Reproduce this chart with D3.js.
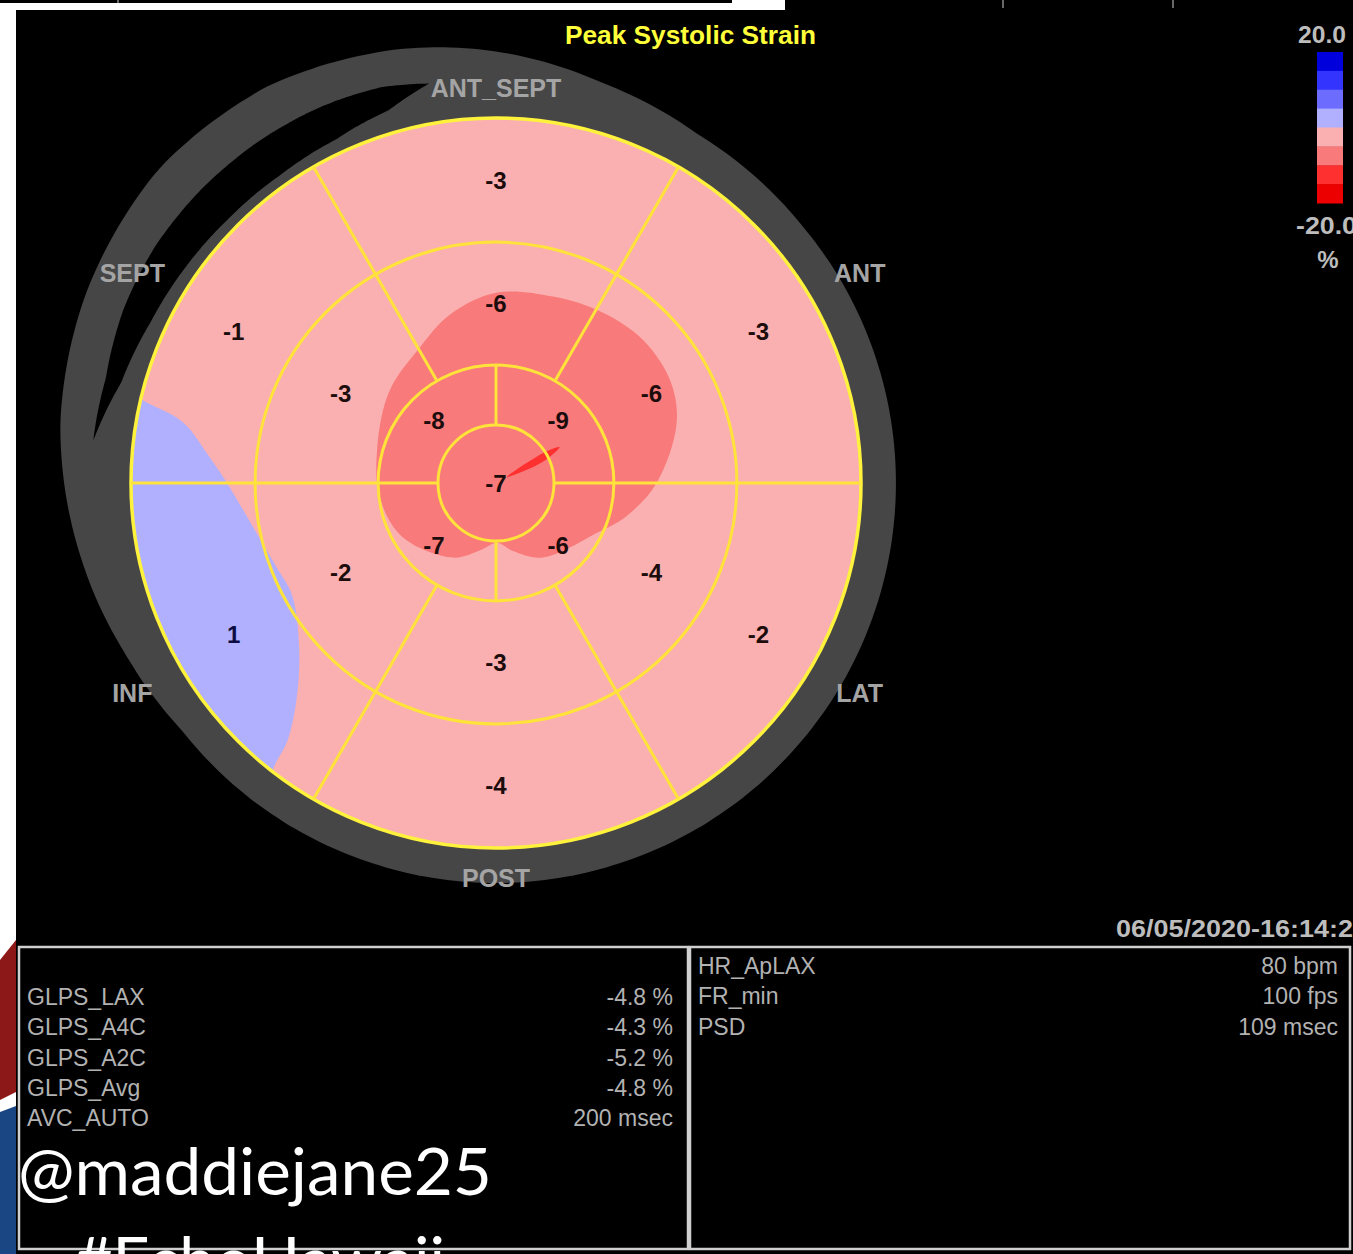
<!DOCTYPE html>
<html lang="en">
<head>
    <meta charset="UTF-8">
    <title>Peak Systolic Strain</title>
    <script src="https://d3js.org/d3.v7.min.js"></script>
    <style>
        body {
            margin: 0;
            background: #fff;
            overflow: hidden;
        }
        svg {
            display: block;
            font-family: "Liberation Sans", Arial, sans-serif;
        }
        .seg-value {
            font-size: 24px;
            font-weight: bold;
            fill: #1c0c0c;
        }
        .wall {
            font-size: 25px;
            font-weight: bold;
            fill: #a4a4a4;
        }
        .scale-label {
            font-size: 24px;
            font-weight: bold;
            fill: #bdbdbd;
        }
        .table-text {
            font-size: 23px;
            fill: #b2b2b2;
        }
    </style>
</head>
<body>
    <svg width="1353" height="1254"></svg>

    <script>
        const wallNames = ["ANT_SEPT", "ANT", "LAT", "POST", "INF", "SEPT"];   // clockwise from top
        const basalStrain = [-3, -3, -2, -4, 1, -1];
        const midStrain = [-6, -6, -4, -3, -2, -3];
        const apicalStrain = [-9, -6, -7, -8];                                // clockwise from top-right
        const apexStrain = -7;

        // colour bar, from +20 (top) to -20 (bottom)
        const scaleColors = ["#0000dc", "#3434ff", "#6c6cff", "#b0b0ff", "#fab0b0", "#f87a7a", "#ff3030", "#ec0000"];
        const scaleTicks = ["20.0", "-20.0"];
        const scaleUnit = "%";

        // strain contours (angle in degrees ccw from 3 o'clock, radius as fraction of LV radius)
        const highAngles = [0, 18, 30, 44, 58, 73, 90, 105, 119, 139, 163, 187, 210, 240, 258, 271, 284, 302, 334, 346];
        const highRadii = [0.44, 0.52, 0.553, 0.562, 0.551, 0.534, 0.521, 0.479, 0.427, 0.386, 0.34, 0.321, 0.296, 0.236, 0.186, 0.164, 0.192, 0.241, 0.31, 0.37];
        const highValue = -7;

        const posAngles = [165, 166.8, 169, 175, 180, 189, 201, 209, 220, 227, 231, 232, 234, 200];
        const posRadii = [1.08, 0.995, 0.874, 0.786, 0.737, 0.682, 0.644, 0.638, 0.704, 0.8, 0.907, 0.989, 1.08, 1.25];
        const posValue = 1;

        const peakAngles = [28.6, 33, 31, 29.4, 25.5, 23.5];
        const peakRadii = [0.034, 0.13, 0.185, 0.2, 0.16, 0.12];
        const peakValue = -12;

        const glpsNames = ["GLPS_LAX", "GLPS_A4C", "GLPS_A2C", "GLPS_Avg", "AVC_AUTO"];
        const glpsValues = ["-4.8 %", "-4.3 %", "-5.2 %", "-4.8 %", "200 msec"];
        const acqNames = ["HR_ApLAX", "FR_min", "PSD"];
        const acqValues = ["80 bpm", "100 fps", "109 msec"];
        const timeStamp = "06/05/2020-16:14:21";

        // ---- page frame ----
        const svg = d3.select("svg");
        const cx = 496, cy = 483, R = 365;

        svg.append("rect").attr("x", 0).attr("y", 0).attr("width", 732).attr("height", 3).attr("fill", "#000");
        svg.append("rect").attr("x", 785).attr("y", 0).attr("width", 568).attr("height", 10).attr("fill", "#000");
        svg.append("rect").attr("x", 16).attr("y", 10).attr("width", 1337).attr("height", 1244).attr("fill", "#000");
        [118, 1003, 1173].forEach(x => {
            svg.append("line").attr("x1", x).attr("x2", x).attr("y1", 0).attr("y2", x < 700 ? 3 : 8)
                .attr("stroke", "#8a8a8a").attr("stroke-width", 1.5);
        });
        svg.append("path").attr("d", "M0,960L16,940L16,1092L0,1100Z").attr("fill", "#8c1818");
        svg.append("path").attr("d", "M0,1112L16,1106L16,1254L0,1254Z").attr("fill", "#1b4684");

        // ---- bull's-eye ----
        const rad = d => (90 - d) * Math.PI / 180;       // math angle -> d3 radial angle
        const r = d3.scaleLinear().domain([0, 1]).range([0, R]);
        const color = d3.scaleQuantize().domain([-20, 20]).range(scaleColors.slice().reverse());
        const rings = [0.159, 0.323, 0.66, 1];           // apex, apical, mid, basal outer edges

        svg.append("clipPath").attr("id", "lv").append("circle").attr("cx", cx).attr("cy", cy).attr("r", R);
        const back = svg.append("g").attr("transform", `translate(${cx},${cy})`);
        const maps = svg.append("g").attr("clip-path", "url(#lv)")
            .append("g").attr("transform", `translate(${cx},${cy})`);
        const g = svg.append("g").attr("transform", `translate(${cx},${cy})`);

        // grey wall outline with its crescent gap
        const frameR = d3.scaleLinear()
            .domain([0, 40, 60, 75, 92, 103, 120, 137, 155, 172, 190, 205, 218, 360])
            .range([400, 400, 403, 414, 434, 445, 458, 461, 452, 440, 422, 408, 400, 400]);
        back.append("path")
            .datum(d3.range(0, 360, 2))
            .attr("d", d3.lineRadial().angle(d => rad(d)).radius(d => frameR(d)).curve(d3.curveBasisClosed))
            .attr("fill", "#464646");

        const gapA = [99.5, 106, 115, 125, 135, 145, 155, 165, 174];
        const gapIn = d3.scaleLinear().domain(gapA).range([405, 388, 379, 376, 376, 378, 381, 388, 405]);
        const gapOut = d3.scaleLinear().domain(gapA).range([405, 412, 415, 416, 416, 415, 411, 404, 405]);
        back.append("path")
            .datum(d3.range(99.5, 174.01, 0.5))
            .attr("d", d3.areaRadial().angle(d => rad(d)).innerRadius(d => gapIn(d)).outerRadius(d => gapOut(d)).curve(d3.curveBasis))
            .attr("fill", "#000");

        // strain map
        maps.append("circle").attr("r", R).attr("fill", color(-3));
        const contour = d3.lineRadial().angle(d => rad(d[0])).radius(d => r(d[1])).curve(d3.curveCatmullRomClosed.alpha(0.5));
        maps.append("path").datum(d3.zip(highAngles, highRadii)).attr("d", contour).attr("fill", color(highValue));
        maps.append("path").datum(d3.zip(posAngles, posRadii)).attr("d", contour).attr("fill", color(posValue));
        maps.append("path").datum(d3.zip(peakAngles, peakRadii)).attr("d", contour).attr("fill", color(peakValue));

        // segment borders
        const yellow = "#ffe23a";
        rings.forEach((f, i) => {
            g.append("circle").attr("r", r(f)).attr("fill", "none")
                .attr("stroke", i === 3 ? "#fff23c" : yellow).attr("stroke-width", i === 3 ? 3.5 : 3);
        });
        const border = (angleCw, r0, r1) => {
            const a = angleCw * Math.PI / 180;
            g.append("line")
                .attr("x1", r(r0) * Math.sin(a)).attr("y1", -r(r0) * Math.cos(a))
                .attr("x2", r(r1) * Math.sin(a)).attr("y2", -r(r1) * Math.cos(a))
                .attr("stroke", yellow).attr("stroke-width", 3);
        };
        d3.range(6).forEach(i => border(30 + i * 60, rings[1], rings[3]));
        d3.range(4).forEach(i => border(i * 90, rings[0], rings[1]));

        // segment values
        const valueAt = (v, angleCw, f) => {
            const a = angleCw * Math.PI / 180;
            g.append("text").attr("class", "seg-value")
                .attr("x", r(f) * Math.sin(a)).attr("y", -r(f) * Math.cos(a))
                .attr("text-anchor", "middle").attr("dominant-baseline", "central")
                .style("fill", v > 0 ? "#0c0c42" : null)
                .text(v);
        };
        basalStrain.forEach((v, i) => valueAt(v, i * 60, (rings[2] + rings[3]) / 2));
        midStrain.forEach((v, i) => valueAt(v, i * 60, (rings[1] + rings[2]) / 2));
        apicalStrain.forEach((v, i) => valueAt(v, 45 + i * 90, (rings[0] + rings[1]) / 2));
        valueAt(apexStrain, 0, 0);

        // wall names
        wallNames.forEach((name, i) => {
            const a = i * 60 * Math.PI / 180;
            const rr = (i % 3 === 0) ? 395 : 420;
            g.append("text").attr("class", "wall")
                .attr("x", rr * Math.sin(a)).attr("y", -rr * Math.cos(a))
                .attr("text-anchor", "middle").attr("dominant-baseline", "central")
                .text(name);
        });

        // ---- title ----
        svg.append("text")
            .attr("x", 565).attr("y", 44)
            .attr("textLength", 251).attr("lengthAdjust", "spacingAndGlyphs")
            .style("font-size", "25px").style("font-weight", "bold").style("fill", "#ffff3a")
            .text("Peak Systolic Strain");

        // ---- colour bar ----
        const barY = d3.scaleBand().domain(d3.range(scaleColors.length)).range([52, 203]);
        svg.append("g").selectAll("rect")
            .data(scaleColors)
            .join("rect")
            .attr("x", 1317).attr("width", 26)
            .attr("y", (d, i) => barY(i)).attr("height", barY.bandwidth() + 0.5)
            .attr("fill", d => d);
        svg.append("text").attr("class", "scale-label").attr("x", 1298).attr("y", 43)
            .attr("textLength", 48).attr("lengthAdjust", "spacingAndGlyphs").text(scaleTicks[0]);
        svg.append("text").attr("class", "scale-label").attr("x", 1296).attr("y", 234)
            .attr("textLength", 61).attr("lengthAdjust", "spacingAndGlyphs").text(scaleTicks[1]);
        svg.append("text").attr("class", "scale-label").attr("x", 1328).attr("y", 268)
            .attr("text-anchor", "middle").text(scaleUnit);

        svg.append("text").attr("class", "scale-label").attr("x", 1116).attr("y", 937)
            .attr("textLength", 252).attr("lengthAdjust", "spacingAndGlyphs").text(timeStamp);

        // ---- measurement boxes ----
        [[19, 669], [690, 660]].forEach(([x, w]) => {
            svg.append("rect").attr("x", x).attr("y", 947).attr("width", w).attr("height", 302)
                .attr("fill", "none").attr("stroke", "#cfcfcf").attr("stroke-width", 2.5);
        });
        const rowY = d3.scaleLinear().domain([0, 1]).range([0, 30.3]);
        glpsNames.forEach((n, i) => {
            svg.append("text").attr("class", "table-text").attr("x", 27).attr("y", 1005 + rowY(i)).text(n);
            svg.append("text").attr("class", "table-text").attr("x", 673).attr("y", 1005 + rowY(i))
                .attr("text-anchor", "end").text(glpsValues[i]);
        });
        acqNames.forEach((n, i) => {
            svg.append("text").attr("class", "table-text").attr("x", 698).attr("y", 974 + rowY(i)).text(n);
            svg.append("text").attr("class", "table-text").attr("x", 1338).attr("y", 974 + rowY(i))
                .attr("text-anchor", "end").text(acqValues[i]);
        });

        // ---- overlay handle ----
        svg.append("text").attr("x", 18).attr("y", 1195)
            .attr("textLength", 474).attr("lengthAdjust", "spacingAndGlyphs")
            .style("font-family", "Lato, 'Open Sans', sans-serif").style("font-size", "66px").style("fill", "#fff")
            .text("@maddiejane25");
        svg.append("text").attr("x", 75).attr("y", 1284)
            .attr("textLength", 370).attr("lengthAdjust", "spacingAndGlyphs")
            .style("font-family", "Lato, 'Open Sans', sans-serif").style("font-size", "66px").style("fill", "#fff")
            .text("#EchoHawaii");
    </script>
</body>
</html>
